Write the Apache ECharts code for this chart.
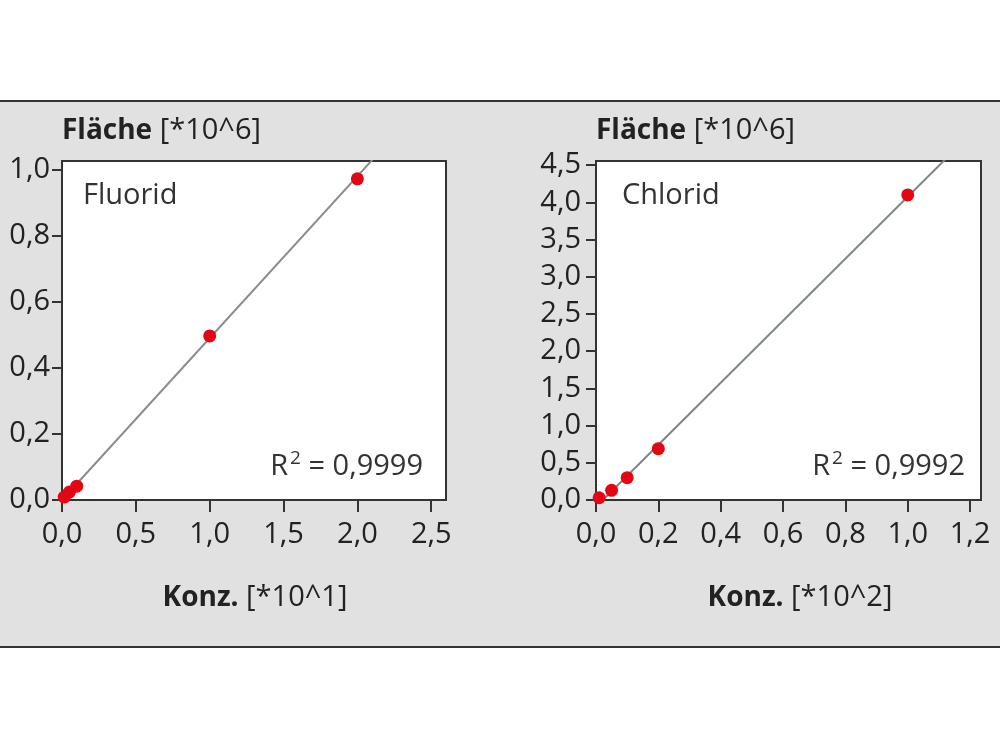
<!DOCTYPE html>
<html>
<head>
<meta charset="utf-8">
<script src="https://cdn.jsdelivr.net/npm/echarts@6/dist/echarts.min.js"></script>
<style>html,body{margin:0;padding:0;background:#fff;}#c{width:1000px;height:750px;}</style>
</head>
<body>
<div id="c"></div>
<script>
// ---- data ----
const fluoridConc = [0.015, 0.05, 0.1, 1.0, 2.0];
const fluoridArea = [0.009, 0.024, 0.042, 0.497, 0.973];
const fluoridFit = [[0, 0.0], [2.2, 1.079]];
const chloridConc = [0.01, 0.05, 0.1, 0.2, 1.0];
const chloridArea = [0.03, 0.13, 0.30, 0.69, 4.10];
const chloridFit = [[0.022, 0.0], [1.2, 4.91]];
const panelNames = ['Fluorid', 'Chlorid'];
const r2Labels = ['0,9999', '0,9992'];
const yTitle = 'Fläche';
const yUnit = '[*10^6]';
const xTitle = 'Konz.';
const xUnits = ['[*10^1]', '[*10^2]'];

const FONT = 'Open Sans';
const TXT = '#222';
const fmt = v => v.toFixed(1).replace('.', ',');

function pts(xs, ys) { return xs.map((x, i) => [x, ys[i]]); }

const chart = echarts.init(document.getElementById('c'), null, {renderer: 'canvas'});

function lbl(margin) {
  return {color: TXT, fontFamily: FONT, fontSize: 29, formatter: fmt, showMaxLabel: false, margin: margin};
}
function axisCommon(extra) {
  return Object.assign({
    type: 'value',
    splitLine: {show: false},
    axisLine: {show: true, onZero: false, lineStyle: {color: '#333', width: 2}},
    axisTick: {show: true, length: 10, lineStyle: {color: '#333', width: 2}}
  }, extra);
}
const xTick = {show: true, length: 12, lineStyle: {color: '#333', width: 2}};
const titleRich = {
  b: {fontFamily: FONT, fontSize: 28, fontWeight: 'bold', fill: TXT},
  n: {fontFamily: FONT, fontSize: 29, fill: TXT}
};
const r2Rich = {
  r: {fontFamily: FONT, fontSize: 29, fill: '#333'},
  s: {fontFamily: FONT, fontSize: 19, fill: '#333', padding: [0, 0, 16, 2]}
};

const option = {
  animation: false,
  backgroundColor: '#fff',
  grid: [
    {left: 62, top: 161, width: 384, height: 339, show: true, backgroundColor: '#fff', borderColor: '#333', borderWidth: 2, containLabel: false},
    {left: 596, top: 161, width: 385, height: 339, show: true, backgroundColor: '#fff', borderColor: '#333', borderWidth: 2, containLabel: false}
  ],
  xAxis: [
    axisCommon({gridIndex: 0, min: 0, max: 2.6, interval: 0.5, axisTick: xTick, axisLabel: lbl(20)}),
    axisCommon({gridIndex: 1, min: 0, max: 1.235, interval: 0.2, axisTick: xTick, axisLabel: lbl(20)})
  ],
  yAxis: [
    axisCommon({gridIndex: 0, min: 0, max: 1.027, interval: 0.2, axisLabel: lbl(12)}),
    axisCommon({gridIndex: 1, min: 0, max: 4.556, interval: 0.5, axisLabel: lbl(15)})
  ],
  series: [
    {type: 'line', xAxisIndex: 0, yAxisIndex: 0, data: fluoridFit, showSymbol: false, clip: true,
      lineStyle: {color: '#8c8c8c', width: 2}, z: 2, silent: true},
    {type: 'scatter', xAxisIndex: 0, yAxisIndex: 0, data: pts(fluoridConc, fluoridArea), symbolSize: 13,
      itemStyle: {color: '#e30613', opacity: 1}, z: 3, clip: false},
    {type: 'line', xAxisIndex: 1, yAxisIndex: 1, data: chloridFit, showSymbol: false, clip: true,
      lineStyle: {color: '#7f8585', width: 2}, z: 2, silent: true},
    {type: 'scatter', xAxisIndex: 1, yAxisIndex: 1, data: pts(chloridConc, chloridArea), symbolSize: 13,
      itemStyle: {color: '#e30613', opacity: 1}, z: 3, clip: false}
  ],
  graphic: [
    {type: 'rect', z: -10, silent: true, shape: {x: -5, y: 101, width: 1010, height: 546},
      style: {fill: '#e1e1e1', stroke: '#333', lineWidth: 2}},
    // y titles
    {type: 'text', x: 62, y: 131, z: 10, style: {text: '{b|' + yTitle + '}{n| ' + yUnit + '}', verticalAlign: 'middle', align: 'left', rich: titleRich}},
    {type: 'text', x: 596, y: 131, z: 10, style: {text: '{b|' + yTitle + '}{n| ' + yUnit + '}', verticalAlign: 'middle', align: 'left', rich: titleRich}},
    // x titles
    {type: 'text', x: 255, y: 598, z: 10, style: {text: '{b|' + xTitle + '}{n| ' + xUnits[0] + '}', verticalAlign: 'middle', align: 'center', rich: titleRich}},
    {type: 'text', x: 800, y: 598, z: 10, style: {text: '{b|' + xTitle + '}{n| ' + xUnits[1] + '}', verticalAlign: 'middle', align: 'center', rich: titleRich}},
    // panel names
    {type: 'text', x: 83, y: 196, z: 10, style: {text: panelNames[0], verticalAlign: 'middle', align: 'left',
      fontFamily: FONT, fontSize: 29, fill: '#333'}},
    {type: 'text', x: 622, y: 196, z: 10, style: {text: panelNames[1], verticalAlign: 'middle', align: 'left',
      fontFamily: FONT, fontSize: 29, fill: '#333'}},
    // R2
    {type: 'text', x: 423, y: 467, z: 10, style: {text: '{r|R}{s|2}{r| = ' + r2Labels[0] + '}', verticalAlign: 'middle', align: 'right', rich: r2Rich}},
    {type: 'text', x: 965, y: 467, z: 10, style: {text: '{r|R}{s|2}{r| = ' + r2Labels[1] + '}', verticalAlign: 'middle', align: 'right', rich: r2Rich}}
  ]
};
chart.setOption(option);
</script>
</body>
</html>
